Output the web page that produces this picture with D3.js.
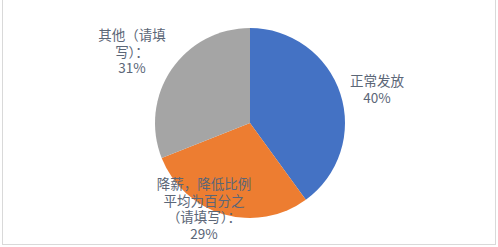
<!DOCTYPE html>
<html>
<head>
<meta charset="utf-8">
<script src="https://cdn.jsdelivr.net/npm/d3@7"></script>
<style>
  body { margin: 0; background: #fff; }
  svg { display: block; }
</style>
</head>
<body>
<svg></svg>
<script>
// Data
const categories = ["正常发放", "降薪，降低比例平均为百分之（请填写）：", "其他（请填写）："];
const values = [40, 29, 31];
const colors = ["#4472C4", "#ED7D31", "#A5A5A5"];
// label lines as wrapped in the picture
const labelLines = [
  ["正常发放", "40%"],
  ["降薪，降低比例", "平均为百分之", "（请填写）：", "29%"],
  ["其他（请填", "写）：", "31%"]
];

const width = 498, height = 247;
const svg = d3.select("svg")
  .attr("width", width)
  .attr("height", height);

// chart frame
svg.append("rect")
  .attr("x", 2.5).attr("y", -2)
  .attr("width", width - 5).attr("height", 246.5)
  .attr("fill", "none")
  .attr("stroke", "#d9d9d9");

const cx = 250, cy = 123, radius = 95;
const g = svg.append("g")
  .attr("transform", "translate(" + cx + "," + cy + ")");

const pie = d3.pie().sort(null).value(d => d);
const arc = d3.arc().innerRadius(0).outerRadius(radius);
const arcs = pie(values);

g.selectAll("path")
  .data(arcs)
  .enter().append("path")
  .attr("d", arc)
  .attr("fill", (d, i) => colors[i]);

// label positions (relative to pie centre, first baseline)
const labelPos = [[127, -37], [-46, 66], [-118, -83]];

const lab = svg.append("g")
  .attr("font-family", "'Noto Sans CJK SC', sans-serif")
  .attr("font-size", 13.5)
  .attr("fill", "#5b6677")
  .attr("text-anchor", "middle");

labelLines.forEach(function(lines, i) {
  const t = lab.append("text")
    .attr("x", cx + labelPos[i][0])
    .attr("y", cy + labelPos[i][1]);
  lines.forEach(function(line, j) {
    t.append("tspan")
      .attr("x", cx + labelPos[i][0])
      .attr("dy", j === 0 ? 0 : 16.5)
      .text(line);
  });
});
</script>
</body>
</html>
